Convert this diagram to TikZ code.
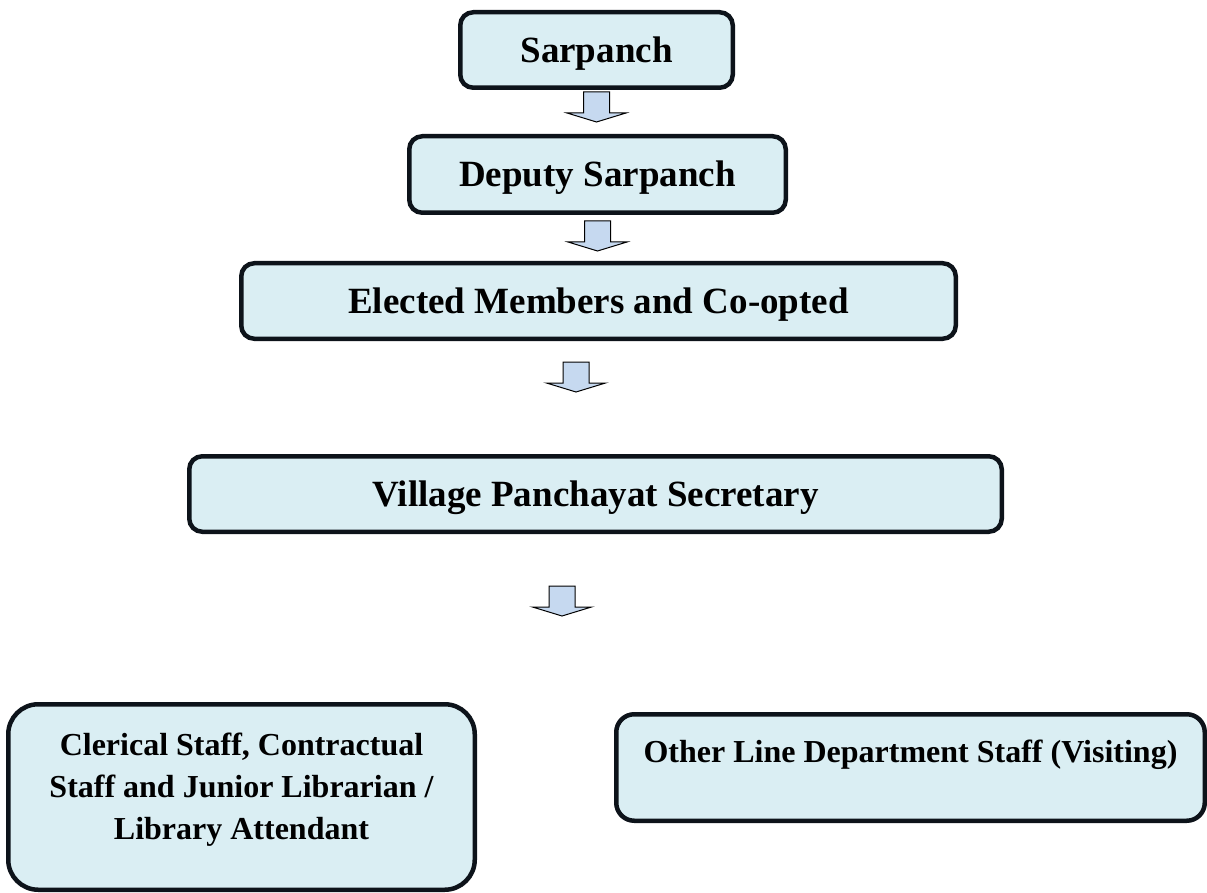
\documentclass[tikz,border=0pt]{standalone}
\usepackage{fontspec}
\setmainfont{Liberation Serif}
\definecolor{boxfill}{HTML}{DAEEF3}
\definecolor{boxline}{HTML}{0D131A}
\definecolor{arrfill}{HTML}{C6D9F0}
\tikzset{
  orgbox/.style={draw=boxline, fill=boxfill, line width=4.5pt, inner sep=0pt},
  bigtext/.style={font=\fontsize{37}{44}\selectfont\bfseries, text height=24.5pt, text depth=0pt},
  smalltext/.style={font=\fontsize{32}{42}\selectfont\bfseries, inner sep=0pt},
  arrowstyle/.style={draw=black, fill=arrfill, line width=1pt, line join=miter},
  downarr/.pic={
    \draw[arrowstyle] (-13,0) -- (13,0) -- (13,21) -- (29.5,21) -- (0,30) -- (-29.5,21) -- (-13,21) -- cycle;
  }
}
\begin{document}
\begin{tikzpicture}[x=1pt, y=-1pt]
\path[use as bounding box] (0,0) rectangle (1207,893);
% boxes
\node[orgbox, bigtext, minimum width=272.5pt, minimum height=75.5pt, rounded corners=13pt] (s) at (596.5,50) {Sarpanch};
\node[orgbox, bigtext, minimum width=376.5pt, minimum height=76.5pt, rounded corners=13pt] (d) at (597.5,174.5) {Deputy Sarpanch};
\node[orgbox, bigtext, minimum width=714.5pt, minimum height=75.5pt, rounded corners=13pt] (e) at (598.5,301) {Elected Members and Co-opted};
\node[orgbox, bigtext, minimum width=812.5pt, minimum height=75.5pt, rounded corners=13pt] (v) at (595.5,494) {Village Panchayat Secretary};
\node[orgbox, minimum width=466.5pt, minimum height=185.5pt, rounded corners=30pt] (c) at (241.5,797) {};
\node[smalltext, align=center] (ct) at (241.5,790) {Clerical Staff, Contractual\\Staff and Junior Librarian /\\Library Attendant};
\node[orgbox, minimum width=588.5pt, minimum height=106.5pt, rounded corners=18pt] (o) at (910.5,767.5) {};
\node[smalltext, anchor=base] (ot) at (910.5,762) {Other Line Department Staff (Visiting)};
% block arrows
\pic (a1) at (596.5,92) {downarr};
\pic (a2) at (597.5,221) {downarr};
\pic (a3) at (576,362) {downarr};
\pic (a4) at (562,586) {downarr};
\end{tikzpicture}
\end{document}
